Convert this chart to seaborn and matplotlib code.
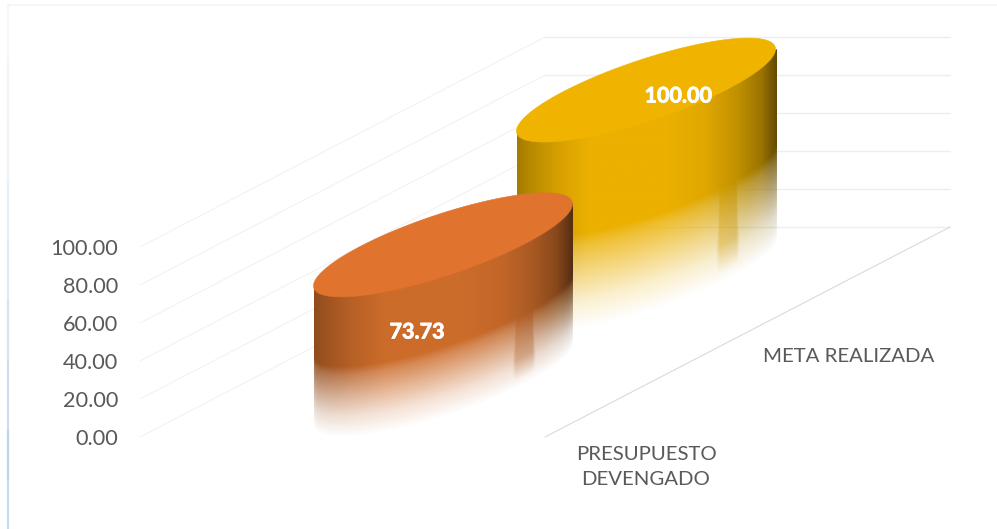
import numpy as np
import pandas as pd
import matplotlib
matplotlib.use("Agg")
import matplotlib.pyplot as plt
from matplotlib.lines import Line2D
from matplotlib.patches import Polygon
from matplotlib.colors import to_rgb
import matplotlib.patheffects as pe
import seaborn as sns

# ---- data ----
categories = ["PRESUPUESTO\nDEVENGADO", "META REALIZADA"]
values = [73.73, 100.00]
value_labels = ["73.73", "100.00"]
y_ticks = [0, 20, 40, 60, 80, 100]
y_tick_labels = ["0.00", "20.00", "40.00", "60.00", "80.00", "100.00"]

# ---- style ----
top_colors = ["#E0732E", "#F0B400"]
body_colors = ["#CC6C2A", "#EBB000"]
depth_offsets = [27.4, 82.6]      # how far back each column stands, in axis units
text_color = "#595959"
W, H = 997, 529
PX_PER_UNIT = 1.9
ZERO_PX = 437
X0_PX, X_STEP_PX = 443, 203
AX_LEFT_PX = 140

sns.set_theme(style="white")
plt.rcParams["font.family"] = ["Lato", "DejaVu Sans"]

fig = plt.figure(figsize=(W / 100, H / 100), dpi=100, facecolor="white")
ax = fig.add_axes([AX_LEFT_PX / W, 0, 1 - AX_LEFT_PX / W, 1])
ax.set_facecolor("none")

df = pd.DataFrame({"cat": categories, "val": values})
bar_width = 259 / X_STEP_PX
sns.barplot(data=df, x="cat", y="val", hue="cat", palette=body_colors, legend=False,
            dodge=False, width=bar_width, ax=ax, zorder=1)


def xd(px):
    return (px - X0_PX) / X_STEP_PX


def yd(px):
    return (ZERO_PX - px) / PX_PER_UNIT


# wall and floor grid
WALL_X, LEFT_X, RIGHT_X = 545, 140, 950
depth_units = 110.5
for v in y_ticks:
    ax.plot([xd(LEFT_X), xd(WALL_X)], [v, v + depth_units], color="#F2F2F2", lw=0.8, zorder=0)
    ax.plot([xd(WALL_X), xd(RIGHT_X)], [v + depth_units] * 2, color="#EEEEEE", lw=1.0, zorder=0)
ax.plot([xd(WALL_X), xd(RIGHT_X)], [0, depth_units], color="#DADADA", lw=0.8, zorder=0)

# tilt of the top ellipse, in axis units
TILT_A = 41 / PX_PER_UNIT
TILT_B = 32 / PX_PER_UNIT

bars = [c[0] for c in ax.containers]
order = [1, 0]
for z, i in enumerate(order):
    bar = bars[i]
    bar.set_y(depth_offsets[i])
    bar.set_alpha(0)
    x0, w, h = bar.get_x(), bar.get_width(), bar.get_height()
    base = bar.get_y()
    top = base + h
    xc = x0 + w / 2

    nx, ny = 560, 900
    v_hi, v_lo = top + TILT_A + TILT_B, base - TILT_A - TILT_B
    us = np.linspace(-1, 1, nx)
    vs = np.linspace(v_hi, v_lo, ny)
    U, V = np.meshgrid(us, vs)
    root = np.sqrt(np.clip(1 - U ** 2, 0, 1))
    front = top + TILT_A * U - TILT_B * root
    t = (front - V) / h

    alpha = np.interp(t, [0, .5, .56, .7, .85, 1.0], [1, 1, .8, .5, .2, 0])
    box = np.clip((U - .5) / .06, 0, 1) * np.clip((.74 - U) / .05, 0, 1)
    alpha = np.maximum(alpha, box * np.interp(t, [.5, .62, .8, .97], [1, .8, .55, 0]))
    # the upper half of the image is hidden: the top ellipse takes over there
    alpha = np.where(V > top + TILT_A * U, 0, alpha)

    shade = np.interp(U, [-1, -.9, -.7, -.45, .15, .45, .7, .88, .97, 1],
                      [.70, .78, .90, 1, 1, .95, .82, .66, .48, .42])
    rgb = np.array(to_rgb(body_colors[i]))
    img = np.zeros((ny, nx, 4))
    for k in range(3):
        img[..., k] = rgb[k] * shade
    img[..., 3] = alpha
    ax.imshow(img, extent=[x0, x0 + w, v_lo, v_hi], aspect="auto",
              interpolation="bilinear", zorder=2 + z)

    tt = np.linspace(0, 2 * np.pi, 240)
    ex = xc + w / 2 * np.cos(tt)
    ey = top + TILT_A * np.cos(tt) + TILT_B * np.sin(tt)
    ax.add_patch(Polygon(np.c_[ex, ey], closed=True, facecolor=top_colors[i],
                         edgecolor=top_colors[i], lw=0.4, zorder=2 + z + 0.1))

# value labels
value_label_px = [(417, 332), (678, 96)]
for (px, py), s in zip(value_label_px, value_labels):
    ax.text(xd(px), yd(py), s, color="white", fontsize=15.5, fontweight="bold",
            ha="center", va="center", zorder=10,
            path_effects=[pe.withStroke(linewidth=0.6, foreground="white")])

# category labels
cat_label_px = [(646, 467), (849, 357)]
for (px, py), s in zip(cat_label_px, categories):
    ax.text(xd(px), yd(py), s, color=text_color, fontsize=14.7, ha="center", va="center",
            linespacing=1.56, zorder=10)

ax.set_xlim(xd(AX_LEFT_PX), xd(W))
ax.set_ylim(yd(H), yd(0))
ax.set_yticks(y_ticks)
ax.set_yticklabels(y_tick_labels, color=text_color, fontsize=15.6, va="center_baseline")
ax.tick_params(axis="y", length=0, pad=15.6)
ax.tick_params(axis="x", length=0, labelbottom=False)
ax.set_xlabel("")
ax.set_ylabel("")
for s in ax.spines.values():
    s.set_visible(False)

# page frame
fig.add_artist(Line2D([7 / W, 1], [1 - 4.5 / H] * 2, color="#F3F5FA", lw=1.2))
frame_y = [5, 60, 120, 180, 240, 300, 360, 430, 480, 529]
frame_c = ["#F3F6FA", "#F0F5FA", "#EDF3F9", "#E6EFF8", "#DFEAF6", "#D5E4F3",
           "#CADDF1", "#BDD4EE", "#C8DCF0", "#D4E3F3"]
for k in range(len(frame_y) - 1):
    fig.add_artist(Line2D([7.5 / W] * 2, [1 - frame_y[k] / H, 1 - frame_y[k + 1] / H],
                          color=frame_c[k], lw=1.6, solid_capstyle="butt"))

fig.savefig("out.png", dpi=100, facecolor="white")
